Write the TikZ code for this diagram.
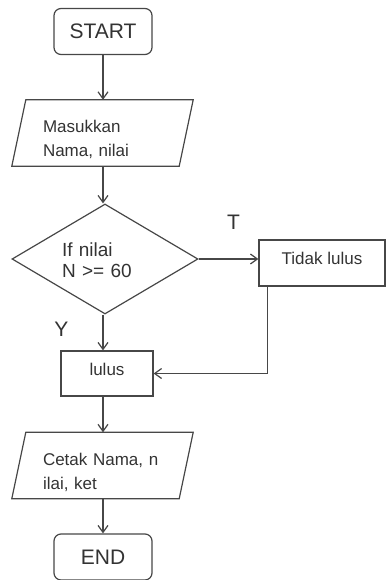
\documentclass[tikz,border=0pt]{standalone}
\usepackage{fontspec}
\setmainfont{Liberation Sans}
\usetikzlibrary{arrows.meta,shapes.geometric,calc}

\definecolor{ink}{HTML}{474747}
\definecolor{txt}{HTML}{333333}

\tikzset{
  base/.style={draw=ink, line width=1.2pt, text=txt, inner sep=0pt},
  term/.style={base, rectangle, rounded corners=7pt, minimum width=98pt,
    minimum height=46pt, font=\fontsize{21}{24}\selectfont},
  box/.style={base, rectangle, font=\fontsize{17}{24}\selectfont},
  io/.style={rectangle, draw=none, text=txt, minimum width=167pt, minimum height=66pt,
    inner ysep=0pt, inner xsep=24pt, text width=119pt, align=left,
    text height=0pt, text depth=0pt, font=\fontsize{17}{24}\selectfont},
  iodraw/.style={draw=ink, line width=1.2pt, line join=miter},
  decision/.style={base, diamond, minimum width=186pt, minimum height=110pt,
    text width=86pt, align=left, text height=0pt, text depth=6pt,
    font=\fontsize{19}{21}\selectfont},
  tag/.style={text=txt, inner sep=0pt, font=\fontsize{21}{24}\selectfont},
  flow/.style={draw=ink, line width=1.2pt, -{Straight Barb[length=7pt,width=10pt]}}
}

\begin{document}
\begin{tikzpicture}[x=1pt, y=-1pt]
  \useasboundingbox (0,0) rectangle (387,580);

  % terminals, process boxes and the decision
  \node[term] (start) at (103,31.5) {START};
  \node[io] (in1) at (102.5,133) {Masukkan\\Nama, nilai};
  \draw[iodraw] ($(in1.north west)+(7,0)$) -- ($(in1.north east)+(7,0)$)
    -- ($(in1.south east)+(-7,0)$) -- ($(in1.south west)+(-7,0)$) -- cycle;
  \node[decision] (dec) at (105,259) {If nilai\\N >= 60};
  \node[box, minimum width=126pt, minimum height=46pt, text height=2pt, text depth=0pt]
    (fail) at (322,263) {Tidak lulus};
  \node[box, minimum width=92pt, minimum height=45pt, text height=3pt, text depth=0pt]
    (pass) at (107,373.5) {lulus};
  \node[io] (out) at (102.5,465.5) {Cetak Nama, n\\ilai, ket};
  \draw[iodraw] ($(out.north west)+(7,0)$) -- ($(out.north east)+(7,0)$)
    -- ($(out.south east)+(-7,0)$) -- ($(out.south west)+(-7,0)$) -- cycle;
  \node[term] (end) at (103,557) {END};

  % branch labels
  \node[tag] (tT) at (233.5,222.5) {T};
  \node[tag] (tY) at (61.5,329.5) {Y};

  % connectors
  \coordinate (failout) at ($(fail.south west)+(9,0)$);
  \draw[flow] (start.south) -- (start.south |- in1.north);
  \draw[flow] (in1.south -| start.south) -- (dec.north -| start.south);
  \draw[flow] (dec.east) -- (dec.east -| fail.west);
  \draw[flow] (dec.south -| start.south) -- (pass.north -| start.south);
  \draw[flow] (failout) |- (pass.east);
  \draw[flow] (pass.south -| start.south) -- (out.north -| start.south);
  \draw[flow] (out.south -| start.south) -- (end.north -| start.south);
\end{tikzpicture}
\end{document}
